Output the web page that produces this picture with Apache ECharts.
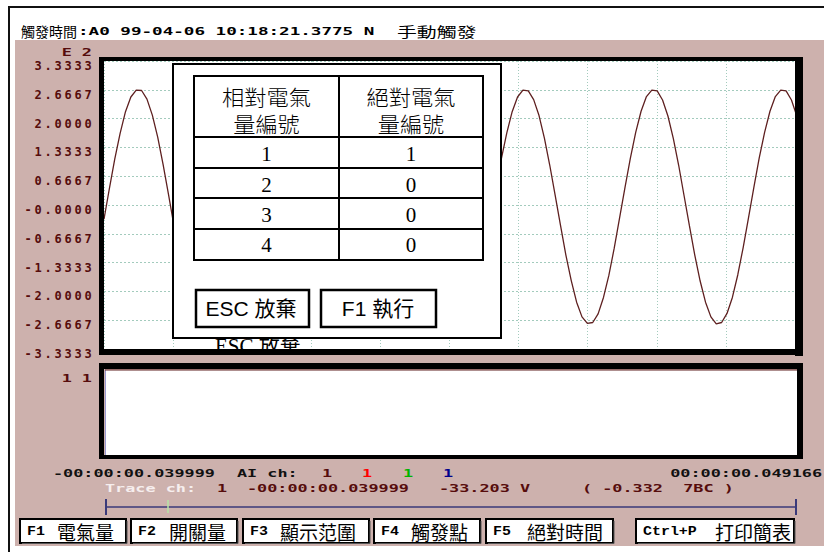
<!DOCTYPE html>
<html>
<head>
<meta charset="utf-8">
<title>觸發波形</title>
<script src="https://cdn.jsdelivr.net/npm/echarts@6/dist/echarts.min.js"></script>
<style>
html, body { margin: 0; padding: 0; background: #fff; }
#main { width: 824px; height: 552px; }
</style>
</head>
<body>
<div id="main"></div>
<script>
// analog channel samples, scaled E 2 (24 samples per 60 Hz cycle)
const waveValues = [
  -0.33, 0.38, 1.06, 1.66, 2.16, 2.50, 2.66, 2.65, 2.45, 2.08, 1.57, 0.94, 0.25, -0.46, -1.14, -1.74, -2.24, -2.58, -2.74, -2.73, -2.53, -2.16, -1.65, -1.02,
  -0.32, 0.39, 1.07, 1.66, 2.15, 2.50, 2.67, 2.65, 2.44, 2.08, 1.56, 0.93, 0.24, -0.46, -1.15, -1.75, -2.24, -2.59, -2.74, -2.72, -2.52, -2.15, -1.64, -1.01,
  -0.31, 0.39, 1.07, 1.67, 2.16, 2.51, 2.66, 2.64, 2.44, 2.07, 1.55, 0.93, 0.23, -0.47, -1.15, -1.75, -2.25, -2.58, -2.75, -2.73, -2.52, -2.15, -1.63, -1.00,
  -0.31, 0.40, 1.08, 1.67, 2.16, 2.50, 2.66, 2.64, 2.44, 2.07, 1.55, 0.92, 0.23, -0.47, -1.16, -1.75, -2.25, -2.59, -2.74, -2.72, -2.52, -2.14, -1.63, -1.00,
  -0.30, 0.40, 1.08, 1.68, 2.17, 2.51, 2.66, 2.64, 2.43, 2.06, 1.54, 0.92, 0.22, -0.48, -1.16, -1.76, -2.25, -2.59, -2.75, -2.72, -2.51, -2.14, -1.62, -0.99,
  -0.30, 0.41, 1.09, 1.68, 2.17, 2.51, 2.66, 2.64, 2.43, 2.06
];
const sampleSpan = 128.66;   // samples between the two window times
const yTickLabels = ['-3.3333', '-2.6667', '-2.0000', '-1.3333', '-0.6667', '-0.0000',
                     '0.6667', '1.3333', '2.0000', '2.6667', '3.3333'];
const switchTimes = [0, 128.66];
const switchStates = [1, 1];

const relNo = ['1', '2', '3', '4'];
const absNo = ['1', '0', '0', '0'];
const colHeads = [['相對電氣', '量編號'], ['絕對電氣', '量編號']];
const fnKeys = ['F1', 'F2', 'F3', 'F4', 'F5', 'Ctrl+P'];
const fnNames = ['電氣量', '開關量', '顯示范圍', '觸發點', '絕對時間', '打印簡表'];
const titleParts = ['觸發時間', ':A0 99-04-06 10:18:21.3775 N', '手動觸發'];
const windowTimes = ['-00:00:00.039999', '00:00:00.049166'];
const traceInfo = ['1', '-00:00:00.039999', '-33.203 V', '( -0.332  7BC )'];

const yMin = -10 / 3, yMax = 10 / 3, yStep = 2 / 3;

const PINK = '#cdb1ad';
const MAROON = '#560c0c';
const GRIDC = '#a3cbbd';
const PIX = '"DejaVu Sans Mono", monospace';
const CJK = '"Noto Sans CJK TC", sans-serif';

const chart = echarts.init(document.getElementById('main'), null, { renderer: 'svg' });

function txt(text, x, y, o) {
  o = o || {};
  const al = o.align || 'left', va = o.va || 'middle';
  return {
    type: 'text', x: x, y: y, z: o.z == null ? 30 : o.z,
    scaleX: o.sx || 1,
    style: {
      text: text, fill: o.color || '#000',
      font: o.font || ('bold 11px ' + PIX),
      align: al, textAlign: al, verticalAlign: va, textVerticalAlign: va
    }
  };
}
function pix(text, x, y, color, align) {
  return txt(text, x, y, { sx: 1.53, color: color, align: align });
}
function box(x0, y0, x1, y1, fill, z, stroke, lw) {
  return {
    type: 'rect', z: z,
    shape: { x: x0, y: y0, width: x1 - x0, height: y1 - y0 },
    style: { fill: fill || null, stroke: stroke || null, lineWidth: lw || 0 }
  };
}
function seg(x0, y0, x1, y1, color, lw, z) {
  return { type: 'line', z: z || 30, shape: { x1: x0, y1: y0, x2: x1, y2: y1 },
           style: { stroke: color, lineWidth: lw } };
}
function cellLabel(s) {
  return s.split('').map(function (c) { return '{c|' + c + '}'; }).join('');
}

const g = [];
// window background
g.push(box(15, 40, 824, 546, PINK, -2));
g.push(box(104, 61, 795, 349, '#fff', -1));
g.push(box(105, 370, 797, 455, '#fff', -1));
g.push(seg(9, 7, 824, 7, '#111', 2, 5));
g.push(seg(9, 6, 9, 552, '#111', 2, 5));

// title
g.push(txt(titleParts[0], 21, 31, { font: '14px ' + CJK }));
g.push(txt(titleParts[1], 78, 31, { sx: 1.6 }));
g.push(txt(titleParts[2], 397, 31, { font: '14px ' + CJK, sx: 1.42 }));

// channel scale marks
g.push(pix('E 2', 92, 52, MAROON, 'right'));
g.push(pix('1 1', 92, 378, MAROON, 'right'));

// popup dialog
g.push(box(173, 64, 501, 338, '#fff', 40, '#000', 2));
g.push(box(194, 76, 483, 260, null, 41, '#000', 2));
[137, 168, 198, 229].forEach(function (y) { g.push(seg(194, y, 483, y, '#000', 2, 41)); });
g.push(seg(339, 76, 339, 260, '#000', 2, 41));
const colX = [266.5, 411];
colHeads.forEach(function (h, i) {
  g.push(txt(h[0], colX[i], 96, { font: '300 21px ' + CJK, align: 'center', z: 42, sx: 1.06 }));
  g.push(txt(h[1], colX[i], 123, { font: '300 21px ' + CJK, align: 'center', z: 42, sx: 1.06 }));
});
const rowY = [154, 184.5, 215, 245];
relNo.forEach(function (s, i) {
  g.push(txt(s, colX[0], rowY[i], { font: '21px "Liberation Serif", serif', align: 'center', z: 42 }));
  g.push(txt(absNo[i], colX[1], rowY[i], { font: '21px "Liberation Serif", serif', align: 'center', z: 42 }));
});
g.push(box(196, 290, 309, 327, '#fff', 41, '#000', 2.5));
g.push(box(321, 290, 436, 327, '#fff', 41, '#000', 2.5));
g.push(txt('ESC 放棄', 251, 308, { font: '21px "Liberation Sans", ' + CJK, align: 'center', z: 42 }));
g.push(txt('F1 執行', 378, 308, { font: '21px "Liberation Sans", ' + CJK, align: 'center', z: 42 }));
// stale label left under the dialog
g.push(txt('ESC 放棄', 215, 335, { font: '21px "Liberation Serif", ' + CJK, va: 'top', z: 15 }));
g.push(box(200, 355, 330, 363, PINK, 19));

// plot frames
g.push(box(99, 57, 803, 61, '#000', 20));
g.push(box(99, 57, 104, 355, '#000', 20));
g.push(box(795, 57, 803, 356, '#000', 20));
g.push(box(99, 349, 803, 355, '#000', 20));
g.push(box(99, 363, 803, 369, '#000', 20));
g.push(box(99, 363, 104, 459, '#000', 20));
g.push(box(797, 363, 803, 459, '#000', 20));
g.push(box(99, 455, 803, 459, '#000', 20));

// status lines
g.push(pix(windowTimes[0], 53, 473, '#111'));
g.push(pix('AI ch:', 237, 473, '#111'));
g.push(pix('1', 322, 473, MAROON));
g.push(pix('1', 362, 473, '#ff0000'));
g.push(pix('1', 403, 473, '#00b400'));
g.push(pix('1', 443, 473, '#00008c'));
g.push(pix(windowTimes[1], 822, 473, '#111', 'right'));
g.push(pix('Trace ch:', 105, 488, '#f6eeee'));
g.push(pix(traceInfo[0], 217, 488, MAROON));
g.push(pix(traceInfo[1], 247, 488, MAROON));
g.push(pix(traceInfo[2], 439, 488, MAROON));
g.push(pix(traceInfo[3], 582, 488, MAROON));

// cursor bar
g.push(seg(105, 507, 796, 507, '#3a3a7a', 1.5));
g.push(seg(106, 499, 106, 515, '#3a3a7a', 2));
g.push(seg(796, 499, 796, 515, '#3a3a7a', 2));
g.push(seg(168, 500, 168, 513, '#b4e6a6', 1.5, 31));

// function keys
const btnX = [[20, 126], [131, 237], [243, 369], [374, 480], [486, 613], [636, 794]];
const nameX = [57, 169, 280, 411, 527, 715];
btnX.forEach(function (b, i) {
  g.push(box(b[0], 519, b[1], 543, '#fff', 30, '#000', 2));
  g.push(seg(b[0] + 2, 543.5, b[1] + 1, 543.5, '#555', 1, 31));
  g.push(seg(b[1] + 1, 521, b[1] + 1, 543.5, '#555', 1, 31));
  g.push(txt(fnKeys[i], b[0] + 7, 531, { font: 'bold 13px "Liberation Mono", monospace', sx: 1.15, z: 32 }));
  g.push(txt(fnNames[i], nameX[i], 531, { font: '19px ' + CJK, z: 32 }));
});

const option = {
  animation: false,
  backgroundColor: '#fff',
  graphic: { elements: g },
  grid: [
    { left: 104, top: 61, width: 691, height: 288 },
    { left: 105, top: 370, width: 692, height: 85 }
  ],
  xAxis: [
    {
      type: 'value', gridIndex: 0, min: 0, max: sampleSpan, interval: sampleSpan / 10,
      axisLine: { show: false }, axisTick: { show: false }, axisLabel: { show: false },
      splitLine: { show: true, lineStyle: { color: GRIDC, width: 1, type: [1, 2] } }
    },
    {
      type: 'value', gridIndex: 1, min: 0, max: sampleSpan, show: false
    }
  ],
  yAxis: [
    {
      type: 'value', gridIndex: 0, min: yMin, max: yMax, interval: yStep,
      axisLine: { show: false }, axisTick: { show: false },
      splitLine: { show: true, lineStyle: { color: GRIDC, width: 1, type: [2, 2] } },
      axisLabel: {
        show: true, margin: 11, interval: 0, showMinLabel: true, showMaxLabel: true,
        padding: [10, 0, 0, 0],
        formatter: function (v) {
          return cellLabel(yTickLabels[Math.round((v - yMin) / yStep)]);
        },
        rich: {
          c: { width: 10, align: 'center', fontFamily: PIX, fontWeight: 'bold', fontSize: 12, color: MAROON }
        }
      }
    },
    {
      type: 'value', gridIndex: 1, min: 0, max: 1,
      axisLine: { show: true, lineStyle: { color: '#9a9ad2', width: 1 } },
      axisTick: { show: false }, axisLabel: { show: false }, splitLine: { show: false }
    }
  ],
  series: [
    {
      type: 'line', xAxisIndex: 0, yAxisIndex: 0,
      data: waveValues.map(function (v, i) { return [i, v]; }),
      showSymbol: false, clip: true,
      lineStyle: { color: '#5e2020', width: 1.3 }
    },
    {
      type: 'line', xAxisIndex: 1, yAxisIndex: 1,
      data: switchTimes.map(function (t, i) { return [t, switchStates[i]]; }),
      showSymbol: false, clip: false,
      lineStyle: { color: '#5e2020', width: 1 }
    }
  ]
};
chart.setOption(option);
</script>
</body>
</html>
